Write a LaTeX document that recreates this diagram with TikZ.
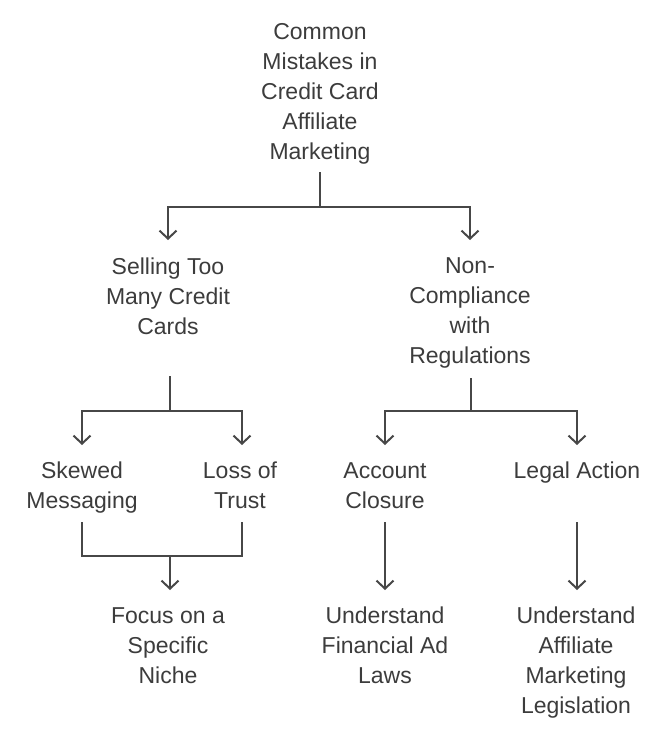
\documentclass[tikz,border=0pt]{standalone}
\usepackage{fontspec}
\setmainfont{Liberation Sans}
\usetikzlibrary{arrows.meta}
\definecolor{txt}{HTML}{3C3C3C}
\definecolor{ln}{HTML}{474747}
\begin{document}
\begin{tikzpicture}[x=1pt,y=-1pt,
  lbl/.style={align=center,text=txt,inner sep=0pt,font=\fontsize{23}{30}\selectfont},
  conn/.style={draw=ln,line width=2pt},
  arr/.style={conn,-{Straight Barb[length=8pt,width=17pt,line width=2pt]}}]
\useasboundingbox (0,0) rectangle (668,736);
\node[lbl] (root) at (320,94) {Common\\Mistakes in\\Credit Card\\Affiliate\\Marketing};
\node[lbl] (sell) at (168,296) {Selling Too\\Many Credit\\Cards};
\node[lbl] (nonc) at (470,313) {Non-\\Compliance\\with\\Regulations};
\node[lbl] (skew) at (82,488) {Skewed\\Messaging};
\node[lbl] (loss) at (240,485) {Loss of\\Trust};
\node[lbl] (acct) at (385,486) {Account\\Closure};
\node[lbl] (legal) at (577,473) {Legal Action};
\node[lbl] (focus) at (168,646) {Focus on a\\Specific\\Niche};
\node[lbl] (fin) at (385,645) {Understand\\Financial Ad\\Laws};
\node[lbl] (leg) at (576,663) {Understand\\Affiliate\\Marketing\\Legislation};
% junctions
\coordinate (j1) at (320,207);
\coordinate (j2) at (170,411);
\coordinate (j3) at (471,411);
\coordinate (j4) at (170,556);
% root split
\draw[conn] (root.south |- 0,172) -- (j1);
\draw[arr] (j1) -| (sell.north |- 0,240);
\draw[arr] (j1) -| (nonc.north |- 0,240);
% selling split
\draw[conn] (j2 |- 0,376) -- (j2);
\draw[arr] (j2) -| (skew.north |- 0,445);
\draw[arr] (j2) -| ([xshift=2pt]loss.north |- 0,445);
% noncompliance split
\draw[conn] (j3 |- 0,378) -- (j3);
\draw[arr] (j3) -| (acct.north |- 0,445);
\draw[arr] (j3) -| (legal.north |- 0,445);
% merge
\draw[conn] (skew.south |- 0,522) |- (j4);
\draw[conn] ([xshift=2pt]loss.south |- 0,522) |- (j4);
\draw[arr] (j4) -- (j4 |- 0,590);
% straight
\draw[arr] (acct.south |- 0,522) -- (fin.north |- 0,590);
\draw[arr] (legal.south |- 0,522) -- (legal.south |- 0,590);
\end{tikzpicture}
\end{document}
